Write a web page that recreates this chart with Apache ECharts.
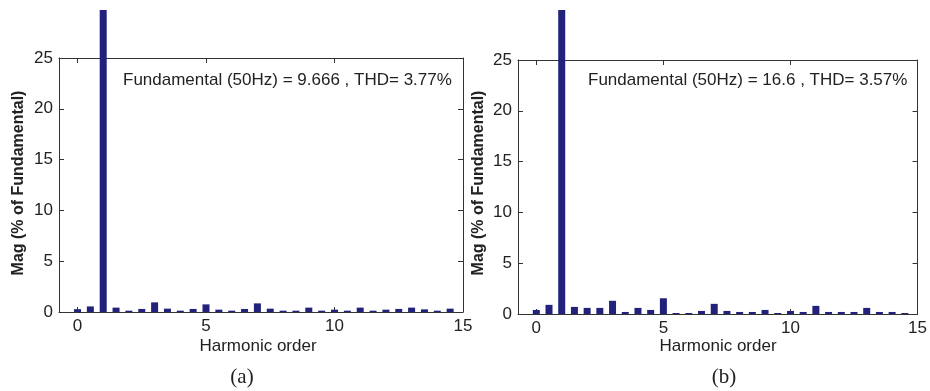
<!DOCTYPE html>
<html><head><meta charset="utf-8">
<script src="https://cdn.jsdelivr.net/npm/echarts@6/dist/echarts.min.js"></script>
<style>html,body{margin:0;padding:0;background:#fff;overflow:hidden}#c{position:absolute;left:0;top:10px;width:930px;height:381px}</style>
</head><body><div id="c"></div>
<script>
const harmonicOrder = [0,0.5,1,1.5,2,2.5,3,3.5,4,4.5,5,5.5,6,6.5,7,7.5,8,8.5,9,9.5,10,10.5,11,11.5,12,12.5,13,13.5,14,14.5];
const magA = [0.28,0.55,100,0.43,0.13,0.3,0.95,0.33,0.13,0.3,0.75,0.23,0.13,0.3,0.85,0.33,0.13,0.13,0.43,0.13,0.23,0.13,0.43,0.13,0.23,0.3,0.43,0.26,0.13,0.33];
const magB = [0.4,0.9,100,0.7,0.6,0.6,1.3,0.2,0.6,0.4,1.55,0.1,0.1,0.3,1.0,0.3,0.2,0.2,0.4,0.1,0.3,0.2,0.8,0.2,0.2,0.2,0.6,0.2,0.2,0.1];
const xTicks = [0,5,10,15];
const titleA = 'Fundamental (50Hz) = 9.666 , THD= 3.77%';
const titleB = 'Fundamental (50Hz) = 16.6 , THD= 3.57%';
const yName = 'Mag (% of Fundamental)';
const xName = 'Harmonic order';

const chart = echarts.init(document.getElementById('c'), null, {renderer:'canvas'});
const font = 'Liberation Sans, Arial, Helvetica, sans-serif';
const lineCol = '#333';
const grids = [
  {left:59, top:48, width:404, height:254},
  {left:518, top:50, width:404, height:254}
];
const xAxes = [], yAxes = [], series = [];
grids.forEach((g, i) => {
  const base = {type:'value', gridIndex:i, min:-0.72, max:15, splitLine:{show:false},
    axisLine:{show:true, onZero:false, lineStyle:{color:lineCol, width:1}},
    axisTick:{show:true, inside:true, length:5, customValues:xTicks, lineStyle:{color:lineCol}},
    axisLabel:{show:true, customValues:xTicks, color:'#222', fontSize:17, fontFamily:font, margin:6, showMaxLabel:true, showMinLabel:true}};
  xAxes.push(Object.assign({}, base, {position:'bottom'}));
  xAxes.push(Object.assign({}, base, {position:'top', axisLabel:{show:false}}));
  const yb = {type:'value', gridIndex:i, min:0, max:25, interval:5, splitLine:{show:false},
    axisLine:{show:true, onZero:false, lineStyle:{color:lineCol, width:1}},
    axisTick:{show:true, inside:true, length:5, lineStyle:{color:lineCol}},
    axisLabel:{show:true, color:'#222', fontSize:17, fontFamily:font, margin:6}};
  yAxes.push(Object.assign({}, yb, {position:'left'}));
  yAxes.push(Object.assign({}, yb, {position:'right', axisLabel:{show:false}}));
  const vals = i === 0 ? magA : magB;
  series.push({type:'bar', xAxisIndex:i*2, yAxisIndex:i*2, clip:false, barWidth:7,
    itemStyle:{color:'#22227c'}, z:5,
    data: harmonicOrder.map((h, k) => [h, vals[k]])});
});
chart.setOption({
  animation:false,
  grid: grids,
  xAxis: xAxes,
  yAxis: yAxes,
  series: series,
  graphic: [
    {type:'text', x:123, y:70, style:{text:titleA, fill:'#222', font:'17px ' + font, textVerticalAlign:'middle'}},
    {type:'text', x:588, y:70, style:{text:titleB, fill:'#222', font:'17px ' + font, textVerticalAlign:'middle'}},
    {type:'text', x:258, y:336, style:{text:xName, fill:'#222', font:'17px ' + font, textAlign:'center', textVerticalAlign:'middle'}},
    {type:'text', x:718, y:336, style:{text:xName, fill:'#222', font:'17px ' + font, textAlign:'center', textVerticalAlign:'middle'}},
    {type:'text', x:242, y:367, style:{text:'(a)', fill:'#222', font:'21px Liberation Serif, Times New Roman, serif', textAlign:'center', textVerticalAlign:'middle'}},
    {type:'text', x:724, y:367, style:{text:'(b)', fill:'#222', font:'21px Liberation Serif, Times New Roman, serif', textAlign:'center', textVerticalAlign:'middle'}},
    {type:'text', x:19, y:173, rotation:Math.PI/2, style:{text:yName, fill:'#222', font:'bold 16px ' + font, textAlign:'center', textVerticalAlign:'middle'}},
    {type:'text', x:479, y:173, rotation:Math.PI/2, style:{text:yName, fill:'#222', font:'bold 16px ' + font, textAlign:'center', textVerticalAlign:'middle'}}
  ]
});
</script></body></html>
